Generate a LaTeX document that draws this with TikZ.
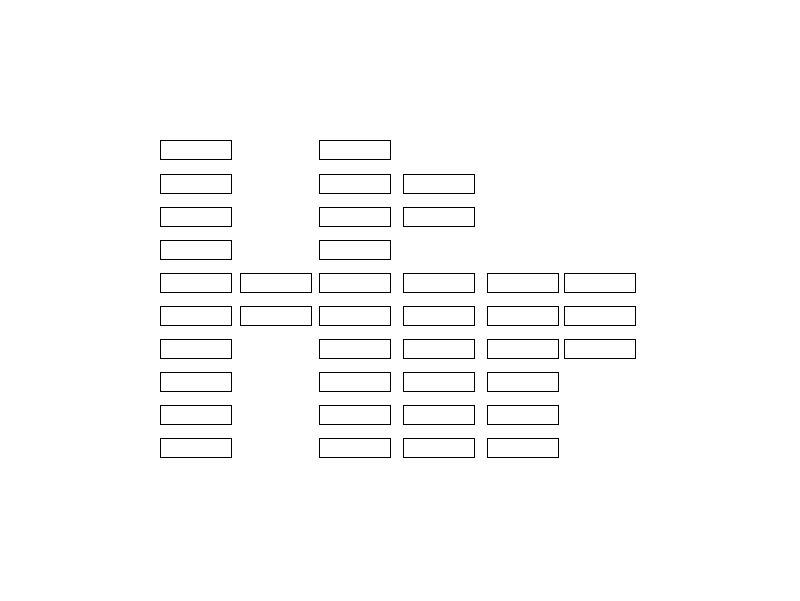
\documentclass[tikz,border=0pt]{standalone}
\begin{document}
\begin{tikzpicture}[x=1pt,y=-1pt,
  cell/.style={draw=black,line width=0.9pt,rectangle,minimum width=71pt,minimum height=19pt,inner sep=0pt,outer sep=0pt,anchor=north west}]
\useasboundingbox (0,0) rectangle (800,600);
\def\rowy#1{\ifcase#1 140.5\or 174.5\or 207.5\or 240.5\or 273.5\or 306.5\or 339.5\or 372.5\or 405.5\or 438.5\fi}
% column 1
\foreach \r in {0,...,9} \node[cell] (a\r) at (160.5,\rowy{\r}) {};
% column 2
\foreach \r in {4,5} \node[cell] (b\r) at (240.5,\rowy{\r}) {};
% column 3
\foreach \r in {0,...,9} \node[cell] (c\r) at (319.5,\rowy{\r}) {};
% column 4
\foreach \r in {1,2,4,5,6,7,8,9} \node[cell] (d\r) at (403.5,\rowy{\r}) {};
% column 5
\foreach \r in {4,...,9} \node[cell] (e\r) at (487.5,\rowy{\r}) {};
% column 6
\foreach \r in {4,5,6} \node[cell] (f\r) at (564.5,\rowy{\r}) {};
\end{tikzpicture}
\end{document}
